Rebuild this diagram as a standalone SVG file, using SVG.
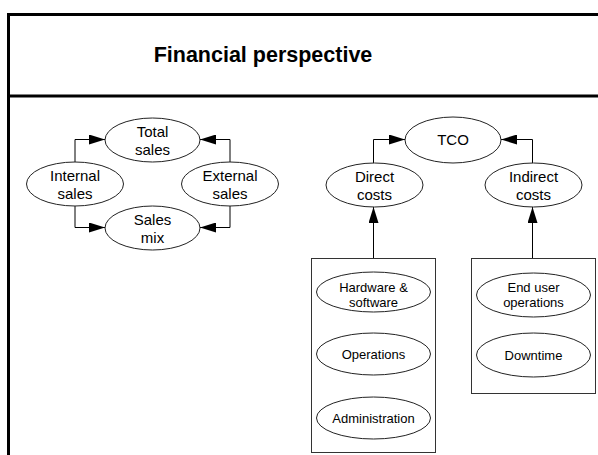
<svg xmlns="http://www.w3.org/2000/svg" width="598" height="455" viewBox="0 0 598 455">
<defs>
<marker id="ah" viewBox="0 0 16 10" refX="16" refY="5" markerWidth="16" markerHeight="10" markerUnits="userSpaceOnUse" orient="auto">
<path d="M0,0 L16,5 L0,10 Z" fill="#000"/>
</marker>
</defs>
<style>
.frame{fill:none;stroke:#000;stroke-width:3}
.node ellipse{fill:#fff;stroke:#222;stroke-width:1}
.box{fill:#fff;stroke:#333;stroke-width:1}
.t{font-family:"Liberation Sans",Arial,sans-serif;font-size:15px;fill:#000;text-anchor:middle}
.s{font-family:"Liberation Sans",Arial,sans-serif;font-size:13px;fill:#000;text-anchor:middle}
.title{font-family:"Liberation Sans",Arial,sans-serif;font-size:21.5px;font-weight:bold;fill:#000;text-anchor:middle}
#connectors path{fill:none;stroke:#000;stroke-width:1;marker-end:url(#ah)}
</style>
<rect width="598" height="455" fill="#fff"/>
<g id="frame">
<path class="frame" d="M8.5,460 L8.5,14.5 L605,14.5"/>
<path class="frame" d="M8.5,96 L605,96"/>
<text class="title" x="263" y="62">Financial perspective</text>
</g>
<g id="box-direct"><rect class="box" x="311.5" y="258.5" width="124" height="194"/></g>
<g id="box-indirect"><rect class="box" x="471.5" y="258.5" width="124" height="135"/></g>
<g id="connectors">
<path d="M75,162 L75,139.5 L105,139.5"/>
<path d="M230,162 L230,139.5 L200,139.5"/>
<path d="M75,206 L75,227.5 L105,227.5"/>
<path d="M230,206 L230,227.5 L200,227.5"/>
<path d="M373.5,163 L373.5,139.5 L405,139.5"/>
<path d="M532.5,163 L532.5,139.5 L501,139.5"/>
<path d="M373.5,258 L373.5,207"/>
<path d="M532.5,258 L532.5,207"/>
</g>
<g id="total-sales" class="node"><ellipse cx="152.5" cy="140" rx="47.5" ry="22"/><text class="t" x="152.5" y="137">Total</text><text class="t" x="152.5" y="155">sales</text></g>
<g id="internal-sales" class="node"><ellipse cx="75" cy="184" rx="48.5" ry="22"/><text class="t" x="75" y="181">Internal</text><text class="t" x="75" y="199">sales</text></g>
<g id="external-sales" class="node"><ellipse cx="230" cy="184" rx="48.5" ry="22"/><text class="t" x="230" y="181">External</text><text class="t" x="230" y="199">sales</text></g>
<g id="sales-mix" class="node"><ellipse cx="152.5" cy="228" rx="47.5" ry="22"/><text class="t" x="152.5" y="225">Sales</text><text class="t" x="152.5" y="243">mix</text></g>
<g id="tco" class="node"><ellipse cx="453" cy="140" rx="48" ry="23"/><text class="t" x="453" y="145">TCO</text></g>
<g id="direct-costs" class="node"><ellipse cx="374.5" cy="185" rx="48.5" ry="22"/><text class="t" x="374.5" y="182">Direct</text><text class="t" x="374.5" y="200">costs</text></g>
<g id="indirect-costs" class="node"><ellipse cx="533.5" cy="185" rx="48.5" ry="22"/><text class="t" x="533.5" y="182">Indirect</text><text class="t" x="533.5" y="200">costs</text></g>
<g id="hardware" class="node"><ellipse cx="373.5" cy="292" rx="57" ry="20"/><text class="s" x="373.5" y="292">Hardware &amp;</text><text class="s" x="373.5" y="307">software</text></g>
<g id="operations" class="node"><ellipse cx="373.5" cy="354" rx="57" ry="21"/><text class="s" x="373.5" y="359">Operations</text></g>
<g id="administration" class="node"><ellipse cx="373.5" cy="418" rx="57" ry="21"/><text class="s" x="373.5" y="423">Administration</text></g>
<g id="end-user" class="node"><ellipse cx="533.5" cy="295" rx="57" ry="22"/><text class="s" x="533.5" y="292">End user</text><text class="s" x="533.5" y="307">operations</text></g>
<g id="downtime" class="node"><ellipse cx="533.5" cy="355" rx="57" ry="22"/><text class="s" x="533.5" y="360">Downtime</text></g>
</svg>
